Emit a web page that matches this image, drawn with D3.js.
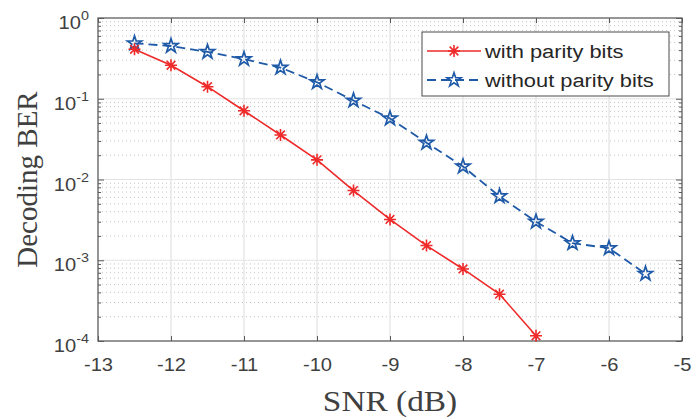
<!DOCTYPE html>
<html>
<head>
<meta charset="utf-8">
<script src="https://cdn.jsdelivr.net/npm/d3@7"></script>
<style>
  body { margin: 0; background: #fff; }
  svg { display: block; }
</style>
</head>
<body>
<div class="viz"></div>
<script>
//////////////////////////
// Data
//////////////////////////

var snrWith = [-12.5, -12, -11.5, -11, -10.5, -10, -9.5, -9, -8.5, -8, -7.5, -7];
var berWith = [0.41, 0.26, 0.141, 0.071, 0.0356, 0.0175, 0.0073, 0.0032, 0.00152, 0.00078, 0.00038, 0.000116];

var snrWithout = [-12.5, -12, -11.5, -11, -10.5, -10, -9.5, -9, -8.5, -8, -7.5, -7, -6.5, -6, -5.5];
var berWithout = [0.486, 0.45, 0.38, 0.31, 0.243, 0.16, 0.095, 0.057, 0.0286, 0.0145, 0.0062, 0.0030, 0.00163, 0.00141, 0.00068];

var xTicks = [-13, -12, -11, -10, -9, -8, -7, -6, -5];
var xTickLabels = ['-13', '-12', '-11', '-10', '-9', '-8', '-7', '-6', '-5'];
var yTicks = [1e-4, 1e-3, 1e-2, 1e-1, 1];
var yExponents = ['-4', '-3', '-2', '-1', '0'];
var seriesNames = ['with parity bits', 'without parity bits'];

// minor log ticks 2..9 x 10^k
var yMinor = [];
yTicks.slice(0, -1).forEach(function(d) {
    [2, 3, 4, 5, 6, 7, 8, 9].forEach(function(m) { yMinor.push(d * m); });
});

//////////////////////////
// D3 Stuff
//////////////////////////

var W = 693, H = 417;
var margins = { top: 18, right: 11, bottom: 76, left: 98 };
var width = W - margins.left - margins.right;
var height = H - margins.top - margins.bottom;
var SX = 'scale(1.15,1)'; // the reference text is a bit wide

var RED = '#ee2a2a';
var BLUE = '#1f5aa8';
var AXIS = '#5a5a5a';
var LABEL = '#404040';

var root = d3.select('div.viz')
    .append('svg')
    .attr('width', W)
    .attr('height', H);

var svg = root.append('g')
    .attr('transform', 'translate(' + margins.left + ',' + margins.top + ')');

var xScale = d3.scaleLinear().domain([-13, -5]).range([0, width]);
var yScale = d3.scaleLog().domain([1e-4, 1]).range([height, 0]);

// grid
var grid = svg.append('g').attr('class', 'grid');
grid.selectAll('line.minor')
    .data(yMinor)
    .enter().append('line')
    .attr('x1', 0).attr('x2', width)
    .attr('y1', function(d) { return yScale(d); })
    .attr('y2', function(d) { return yScale(d); })
    .attr('stroke', '#c4c4c4')
    .attr('stroke-width', 1)
    .attr('stroke-dasharray', '1,3');
grid.selectAll('line.hmajor')
    .data(yTicks)
    .enter().append('line')
    .attr('x1', 0).attr('x2', width)
    .attr('y1', function(d) { return yScale(d); })
    .attr('y2', function(d) { return yScale(d); })
    .attr('stroke', '#e3e3e3')
    .attr('stroke-width', 1.2);
grid.selectAll('line.vmajor')
    .data(xTicks)
    .enter().append('line')
    .attr('y1', 0).attr('y2', height)
    .attr('x1', function(d) { return xScale(d); })
    .attr('x2', function(d) { return xScale(d); })
    .attr('stroke', '#e3e3e3')
    .attr('stroke-width', 1.2);

// axes, ticks pointing inward
function styleAxis(g) {
    g.select('.domain').remove();
    g.selectAll('line').attr('stroke', AXIS).attr('stroke-width', 1);
}

var xAxis = svg.append('g')
    .attr('transform', 'translate(0,' + height + ')')
    .call(d3.axisBottom(xScale).tickValues(xTicks).tickSize(-5).tickPadding(18)
        .tickFormat(function(d, i) { return xTickLabels[i]; }))
    .call(styleAxis);
xAxis.selectAll('text')
    .attr('fill', LABEL)
    .style('font-family', 'Liberation Sans, Arial, sans-serif')
    .style('font-size', '17.5px')
    .attr('transform', SX);

svg.append('g')
    .call(d3.axisTop(xScale).tickValues(xTicks).tickSize(-5).tickFormat(''))
    .call(styleAxis);

svg.append('g')
    .call(d3.axisLeft(yScale).tickValues(yTicks).tickSize(-6).tickFormat(''))
    .call(styleAxis);
svg.append('g')
    .call(d3.axisLeft(yScale).tickValues(yMinor).tickSize(-3).tickFormat(''))
    .call(styleAxis);
svg.append('g')
    .attr('transform', 'translate(' + width + ',0)')
    .call(d3.axisRight(yScale).tickValues(yTicks).tickSize(-6).tickFormat(''))
    .call(styleAxis);
svg.append('g')
    .attr('transform', 'translate(' + width + ',0)')
    .call(d3.axisRight(yScale).tickValues(yMinor).tickSize(-3).tickFormat(''))
    .call(styleAxis);

// box
svg.append('rect')
    .attr('width', width).attr('height', height)
    .attr('fill', 'none')
    .attr('stroke', AXIS)
    .attr('stroke-width', 1.2);

// y tick labels 10^k
var yLab = svg.append('g').selectAll('g')
    .data(yTicks)
    .enter().append('g')
    .attr('transform', function(d) { return 'translate(-9,' + (yScale(d) + 11) + ') ' + SX; });
yLab.append('text')
    .attr('text-anchor', 'end')
    .attr('fill', LABEL)
    .style('font-family', 'Liberation Sans, Arial, sans-serif')
    .style('font-size', '17.5px')
    .each(function(d, i) {
        var t = d3.select(this);
        t.append('tspan').text('10');
        t.append('tspan')
            .attr('dy', -9)
            .style('font-size', '12.5px')
            .text(yExponents[i]);
    });

// lines and markers
var lineGen = d3.line()
    .x(function(d) { return xScale(d[0]); })
    .y(function(d) { return yScale(d[1]); });

var ptsWith = snrWith.map(function(s, i) { return [s, berWith[i]]; });
var ptsWithout = snrWithout.map(function(s, i) { return [s, berWithout[i]]; });

function asterisk(r) {
    var d = r * 0.72;
    return 'M' + (-r) + ',0H' + r + 'M0,' + (-r) + 'V' + r +
        'M' + (-d) + ',' + (-d) + 'L' + d + ',' + d +
        'M' + (-d) + ',' + d + 'L' + d + ',' + (-d);
}
var starPath = d3.symbol(d3.symbolStar, 62)();

svg.append('path')
    .datum(ptsWithout)
    .attr('d', lineGen)
    .attr('fill', 'none')
    .attr('stroke', BLUE)
    .attr('stroke-width', 1.8)
    .attr('stroke-dasharray', '9,5');

svg.append('path')
    .datum(ptsWith)
    .attr('d', lineGen)
    .attr('fill', 'none')
    .attr('stroke', RED)
    .attr('stroke-width', 1.6);

svg.append('g').selectAll('path')
    .data(ptsWithout)
    .enter().append('path')
    .attr('d', starPath)
    .attr('transform', function(d) { return 'translate(' + xScale(d[0]) + ',' + yScale(d[1]) + ')'; })
    .attr('fill', 'none')
    .attr('stroke', BLUE)
    .attr('stroke-width', 1.7);

svg.append('g').selectAll('path')
    .data(ptsWith)
    .enter().append('path')
    .attr('d', asterisk(6))
    .attr('transform', function(d) { return 'translate(' + xScale(d[0]) + ',' + yScale(d[1]) + ')'; })
    .attr('fill', 'none')
    .attr('stroke', RED)
    .attr('stroke-width', 1.6);

// legend
var legend = root.append('g').attr('transform', 'translate(422,32)');
legend.append('rect')
    .attr('width', 247).attr('height', 64)
    .attr('fill', '#fff')
    .attr('stroke', '#4a4a4a')
    .attr('stroke-width', 1);

var rows = legend.selectAll('g.row')
    .data(seriesNames)
    .enter().append('g')
    .attr('class', 'row')
    .attr('transform', function(d, i) { return 'translate(0,' + (19 + i * 29) + ')'; });
rows.append('line')
    .attr('x1', 5).attr('x2', 59)
    .attr('stroke', function(d, i) { return i === 0 ? RED : BLUE; })
    .attr('stroke-width', function(d, i) { return i === 0 ? 1.6 : 1.8; })
    .attr('stroke-dasharray', function(d, i) { return i === 0 ? null : '9,5'; });
rows.append('path')
    .attr('transform', 'translate(32,0)')
    .attr('d', function(d, i) { return i === 0 ? asterisk(6) : starPath; })
    .attr('fill', 'none')
    .attr('stroke', function(d, i) { return i === 0 ? RED : BLUE; })
    .attr('stroke-width', 1.6);
rows.append('text')
    .attr('transform', 'translate(63,7) ' + SX)
    .attr('fill', '#262626')
    .style('font-family', 'Liberation Sans, Arial, sans-serif')
    .style('font-size', '19px')
    .text(function(d) { return d; });

// axis titles
root.append('text')
    .attr('transform', 'translate(' + (margins.left + width / 2) + ',411) ' + SX)
    .attr('text-anchor', 'middle')
    .attr('fill', LABEL)
    .style('font-family', 'Liberation Serif, Times New Roman, serif')
    .style('font-size', '29px')
    .text('SNR (dB)');

root.append('text')
    .attr('transform', 'translate(37,' + (margins.top + height / 2) + ') rotate(-90)')
    .attr('text-anchor', 'middle')
    .attr('fill', LABEL)
    .style('font-family', 'Liberation Serif, Times New Roman, serif')
    .style('font-size', '29px')
    .text('Decoding BER');
</script>
</body>
</html>
